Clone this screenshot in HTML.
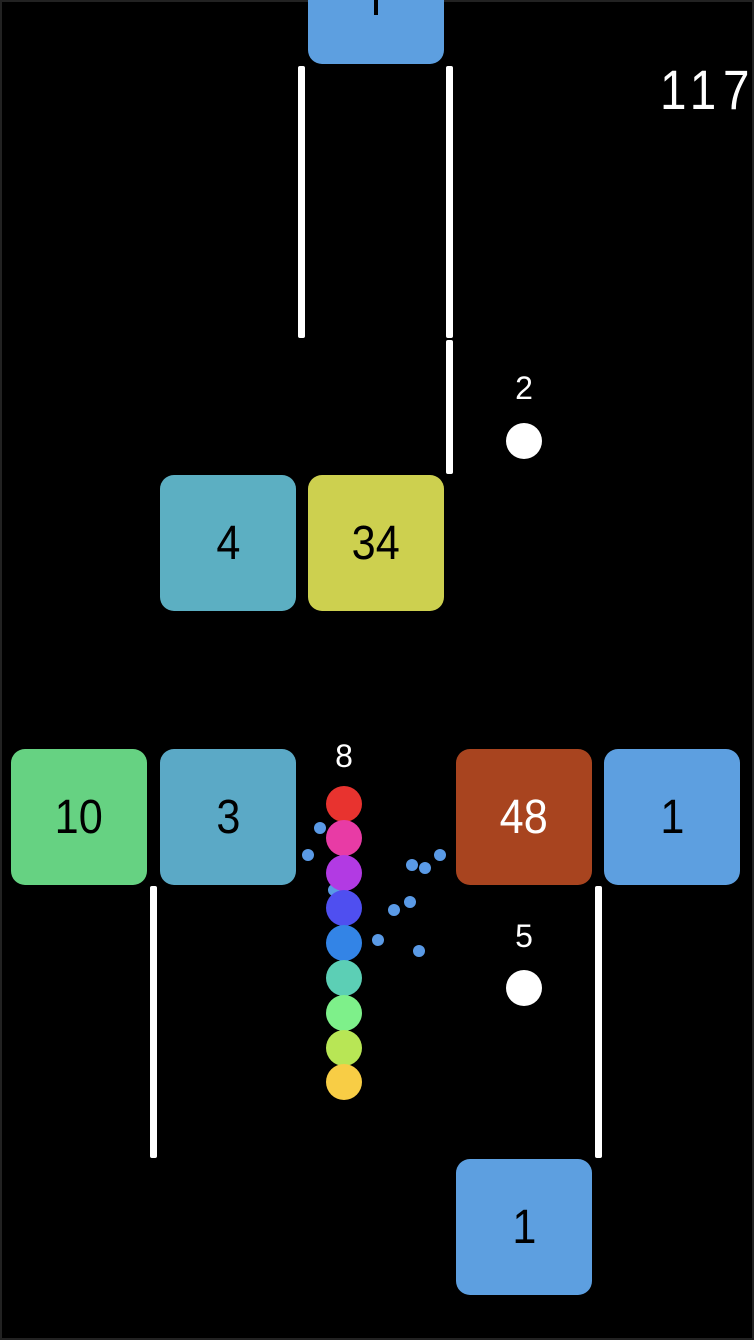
<!DOCTYPE html>
<html><head><style>
html,body{margin:0;padding:0;background:#000;}
#c{position:relative;width:754px;height:1340px;background:#000;overflow:hidden;box-shadow:inset 0 0 0 2px #222;}
.b{position:absolute;width:136px;height:136px;border-radius:14px;display:flex;align-items:center;justify-content:center;font-family:"Liberation Sans",sans-serif;font-size:48px;color:#000;}
.b span{display:inline-block;transform:scaleX(0.9);}
.w{position:absolute;background:#fff;width:7px;border-radius:2px;}
.d{position:absolute;width:12px;height:12px;border-radius:50%;background:#5a9ae6;}
.s{position:absolute;width:36px;height:36px;border-radius:50%;left:326px;}
.t{position:absolute;color:#fff;font-family:"Liberation Sans",sans-serif;font-size:32px;width:60px;text-align:center;}
</style></head><body><div id="c">
<div class="b" style="left:308px;top:-72px;background:#5d9fe0;"></div>
<div style="position:absolute;left:374px;top:0;width:4px;height:15px;background:#000"></div>
<div class="w" style="left:298px;top:66px;height:272px"></div>
<div class="w" style="left:446px;top:66px;height:272px"></div>
<div class="w" style="left:446px;top:340px;height:134px"></div>
<div style="position:absolute;left:660px;top:60px;color:#fff;font-family:'Liberation Sans',sans-serif;font-size:56px;line-height:60px;letter-spacing:8px;transform:scaleX(0.85);transform-origin:left">117</div>
<div class="t" style="left:494px;top:370px">2</div>
<div style="position:absolute;left:506px;top:423px;width:36px;height:36px;border-radius:50%;background:#fff"></div>
<div class="b" style="left:160px;top:475px;background:#5cafc2;"><span>4</span></div>
<div class="b" style="left:308px;top:475px;background:#cdd04f;"><span>34</span></div>
<div class="b" style="left:11px;top:749px;background:#66d282;"><span>10</span></div>
<div class="b" style="left:160px;top:749px;background:#5ba9c6;"><span>3</span></div>
<div class="b" style="left:456px;top:749px;background:#a8441f;color:#fff;"><span>48</span></div>
<div class="b" style="left:604px;top:749px;background:#5d9fe0;"><span>1</span></div>
<div class="b" style="left:456px;top:1159px;background:#5d9fe0;"><span>1</span></div>
<div class="w" style="left:150px;top:886px;height:272px"></div>
<div class="w" style="left:595px;top:886px;height:272px"></div>
<div class="t" style="left:314px;top:738px">8</div>
<div class="t" style="left:494px;top:918px">5</div>
<div style="position:absolute;left:506px;top:970px;width:36px;height:36px;border-radius:50%;background:#fff"></div>
<div class="d" style="left:314px;top:822px"></div>
<div class="d" style="left:302px;top:849px"></div>
<div class="d" style="left:406px;top:859px"></div>
<div class="d" style="left:419px;top:862px"></div>
<div class="d" style="left:434px;top:849px"></div>
<div class="d" style="left:404px;top:896px"></div>
<div class="d" style="left:388px;top:904px"></div>
<div class="d" style="left:372px;top:934px"></div>
<div class="d" style="left:413px;top:945px"></div>
<div class="d" style="left:328px;top:884px"></div>
<div class="s" style="top:786px;background:#e8332f"></div>
<div class="s" style="top:820px;background:#e83ba5"></div>
<div class="s" style="top:855px;background:#b23ae3"></div>
<div class="s" style="top:890px;background:#4f4ff0"></div>
<div class="s" style="top:925px;background:#3384e6"></div>
<div class="s" style="top:960px;background:#5ccfb5"></div>
<div class="s" style="top:995px;background:#7ef08a"></div>
<div class="s" style="top:1030px;background:#b8e655"></div>
<div class="s" style="top:1064px;background:#f8cd45"></div>
</div></body></html>
